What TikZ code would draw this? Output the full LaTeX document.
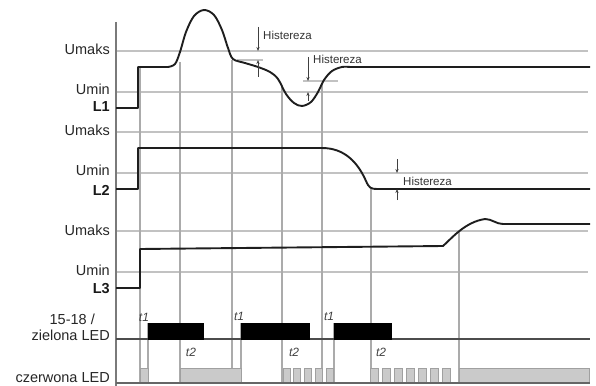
\documentclass[tikz,border=0pt]{standalone}
\usepackage{fontspec}
\setmainfont{Liberation Sans}
\usetikzlibrary{arrows.meta}
\definecolor{gridc}{HTML}{C2C2C2}
\definecolor{vgridc}{HTML}{ABABAB}
\definecolor{axisc}{HTML}{7A7A7A}
\definecolor{sigc}{HTML}{1E1E1E}
\definecolor{ledfill}{HTML}{CACACA}
\definecolor{ledline}{HTML}{A0A0A0}
\begin{document}
\begin{tikzpicture}[x=1pt,y=-1pt,
  gridline/.style={draw=gridc, line width=1.3pt},
  vgridline/.style={draw=vgridc, line width=1.2pt},
  sig/.style={draw=sigc, line width=1.9pt, line join=round},
  lbl/.style={font=\fontsize{14.5}{16}\selectfont, anchor=east, inner sep=0pt, text=black!85},
  blbl/.style={font=\bfseries\fontsize{14.5}{16}\selectfont, anchor=east, inner sep=0pt, text=black!90},
  hlbl/.style={font=\fontsize{11.5}{13}\selectfont, anchor=west, inner sep=0pt, text=black!80},
  tlbl/.style={font=\itshape\fontsize{12}{13}\selectfont, inner sep=0pt, text=black!75},
  harrow/.style={draw=black!75, line width=0.8pt, -{Stealth[length=4pt,width=3.2pt]}},
  hline/.style={draw=gridc, line width=1.3pt},
  blockst/.style={fill=black, draw=black},
  ledst/.style={fill=ledfill, draw=ledline, line width=0.6pt}
]
\useasboundingbox (0,0) rectangle (596,385);

% horizontal grid lines
\foreach \yy in {51,92,132,173,231,272}
  \draw[gridline] (116,\yy) -- (588,\yy);

% vertical grid lines
\draw[vgridline] (140,67) -- (140,383);
\draw[vgridline] (180,62) -- (180,383);
\draw[vgridline] (232,60) -- (232,383);
\draw[vgridline] (282,86) -- (282,383);
\draw[vgridline] (322,84) -- (322,383);
\draw[vgridline] (371,189) -- (371,383);
\draw[vgridline] (459,232) -- (459,383);
\draw[vgridline] (148,323) -- (148,383);
\draw[vgridline] (241,323) -- (241,383);
\draw[vgridline] (334,323) -- (334,383);

% hysteresis auxiliary lines
\draw[hline] (237,60) -- (263,60);
\draw[hline] (303,81) -- (338,81);

% axis
\draw[draw=axisc, line width=2pt] (116,22) -- (116,386);

% L1 signal
\draw[sig] (116,108) -- (138,108) -- (138,67) -- (168,67)
  plot[smooth, tension=0.55] coordinates {(168,67) (175,64) (180,52) (186,32) (194,16) (204,10) (214,15) (222,30) (228,48) (233,59) (245,63) (258,67) (270,72) (278,79) (286,94) (294,103) (302,106) (311,102) (318,92) (324,80) (332,71) (342,67) (350,67)}
  -- (590,67);

% L2 signal
\draw[sig] (116,189) -- (138,189) -- (138,148) -- (322,148)
  .. controls (345,148) and (358,163) .. (366,181)
  .. controls (369,188) and (371,189) .. (377,189) -- (590,189);

% L3 signal
\draw[sig] (116,288) -- (140,288) -- (140,249) -- (443,246)
  .. controls (452,238) and (465,222) .. (485,219)
  .. controls (492,219) and (496,224) .. (503,224) -- (590,224);

% hysteresis arrows
\draw[harrow] (258,27) -- (258,51);
\draw[harrow] (258,77) -- (258,60);
\draw[harrow] (308,57) -- (308,81);
\draw[harrow] (308,101) -- (308,92);
\draw[harrow] (397,159) -- (397,173);
\draw[harrow] (397,200) -- (397,189);

\node[hlbl] (h1) at (263,35) {Histereza};
\node[hlbl] (h2) at (313,59) {Histereza};
\node[hlbl] (h3) at (403,181) {Histereza};

% left labels
\node[lbl] (u1max) at (110,49) {Umaks};
\node[lbl] (u1min) at (110,89) {Umin};
\node[blbl] (l1) at (110,107) {L1};
\node[lbl] (u2max) at (110,130) {Umaks};
\node[lbl] (u2min) at (110,170) {Umin};
\node[blbl] (l2) at (110,190) {L2};
\node[lbl] (u3max) at (110,230) {Umaks};
\node[lbl] (u3min) at (110,270) {Umin};
\node[blbl] (l3) at (110,289) {L3};
\node[lbl] (g1) at (95,319) {15-18 /};
\node[lbl] (g2) at (110,335) {zielona LED};
\node[lbl, anchor=base east] (r1) at (110,382.3) {czerwona LED};

% green LED row
\draw[draw=black!70, line width=1.6pt] (116,339) -- (590,339);
\filldraw[blockst] (148,323) rectangle (203,339);
\filldraw[blockst] (241,323) rectangle (309,339);
\filldraw[blockst] (334,323) rectangle (391,339);

% red LED row
\filldraw[ledst] (140,368) rectangle (148,383);
\filldraw[ledst] (180,368) rectangle (241,383);
\foreach \i in {0,...,4}
  \filldraw[ledst] ({283+10.75*\i},368) rectangle ++(7,15);
\foreach \i in {0,...,6}
  \filldraw[ledst] ({370+12*\i},368) rectangle ++(8.5,15);
\filldraw[ledst] (459,368) rectangle (589,383);
\draw[draw=black!60, line width=1.4pt] (116,383) -- (590,383);

% time labels
\node[tlbl] (ta) at (144,317) {t1};
\node[tlbl] (tb) at (239,316) {t1};
\node[tlbl] (tc) at (329,316) {t1};
\node[tlbl] (td) at (191,352) {t2};
\node[tlbl] (te) at (294,352) {t2};
\node[tlbl] (tf) at (381,352) {t2};
\end{tikzpicture}
\end{document}
